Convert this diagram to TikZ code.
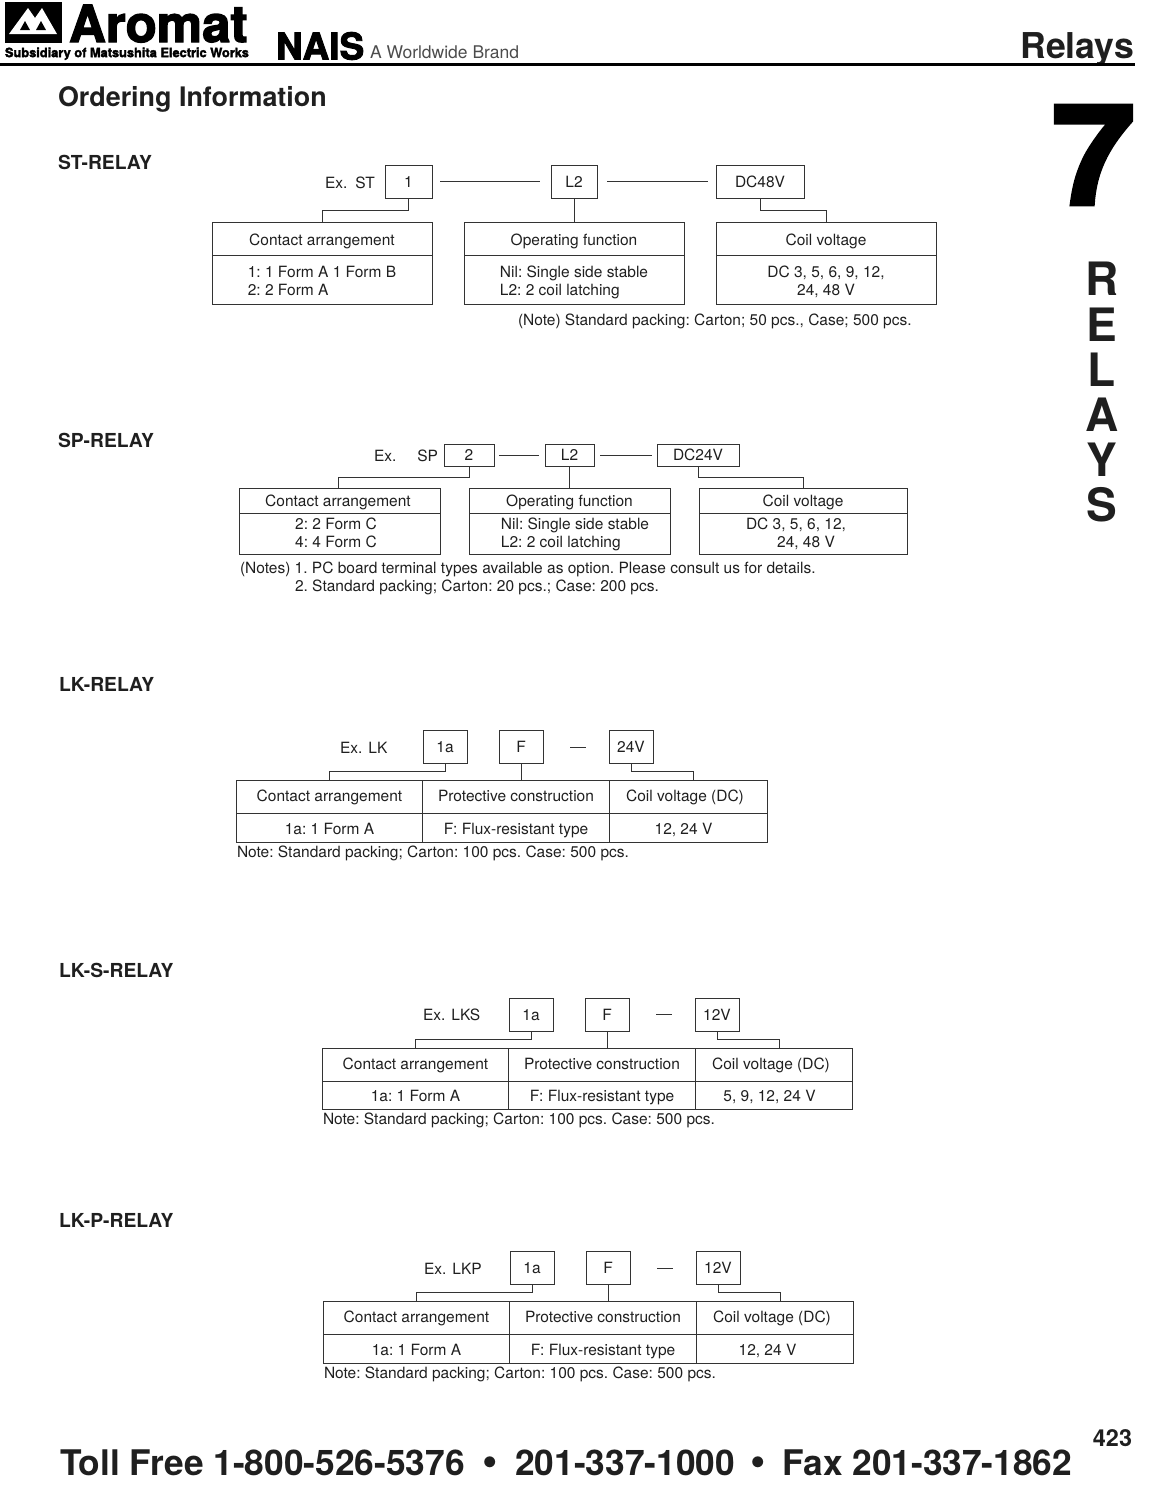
\documentclass[tikz,border=0pt]{standalone}
\usepackage{fontspec}
\setmainfont{TeX Gyre Heros}
\newfontfamily\heavyfont{TeX Gyre Heros}[BoldFeatures={FakeBold=2.5}]
\usepackage{xcolor}
\usetikzlibrary{positioning}
\frenchspacing
\newcommand{\fsz}[1]{\fontsize{#1}{#1}\selectfont}
\newcommand{\twolines}[4][-1.5pt]{\raisebox{#1}[\height][\depth]{\begin{tabular}{@{}#2@{}}#3\\[2.5pt]#4\end{tabular}}}
\begin{document}
\begin{tikzpicture}[
    x=1pt, y=-1pt,
    ink/.style={text=black!88},
    every node/.style={inner sep=0pt, outer sep=0pt, ink},
    rule/.style={draw=black!80, line width=1pt},
    txt/.style={font=\fsz{15.5}, anchor=west, text height=14pt, text depth=2.5pt},
    section/.style={font=\fsz{19.3}\bfseries, anchor=west, text height=15pt, text depth=2.5pt},
    codebox/.style={rule, font=\fsz{15.5}, minimum height=#1, text height=14pt, text depth=2.5pt},
    codebox/.default=33pt,
    head/.style={rule, font=\fsz{15.5}, minimum height=#1, text height=13pt, text depth=2.5pt},
    head/.default=33pt,
    headlow/.style={head=#1, text height=17pt},
    headlow/.default=33pt,
    cell/.style={head=#1, text height=16pt},
    body/.style={rule, font=\fsz{15.5}},
    wire/.style={rule},
    sidelet/.style={font=\fsz{46}\bfseries}
]
\useasboundingbox (0,0) rectangle (1171,1500);
% header
\fill[black] (5,2) rectangle (62,43);
\fill[white] (9,34) -- (28,8) -- (35,18) -- (42,8) -- (57,34) -- cycle;
\fill[black] (25,21) -- (30,30) -- (20,30) -- cycle;
\fill[black] (41,21) -- (46,30) -- (36,30) -- cycle;
\node[anchor=west,font=\heavyfont\fsz{51}\bfseries,text=black,text height=36pt,text depth=0pt] (aromat) at (69,24) {Aromat};
\node[anchor=west,font=\heavyfont\fsz{12.8}\bfseries,text=black,text height=9pt,text depth=2.7pt] (subsidiary) at (5,54) {Subsidiary of Matsushita Electric Works};
\node[anchor=west,font=\heavyfont\fsz{37}\bfseries,text=black] (nais) at (276,46) {NAIS};
\node[anchor=west,font=\fsz{17.5},text=black!70] (brand) at (370,52) {A Worldwide Brand};
\node[anchor=east,font=\fsz{35.6}\bfseries] (relays) at (1134,49) {Relays};
\draw[black,line width=3pt] (0,64.5) -- (1135,64.5);
\node[anchor=west,font=\fsz{26.9}\bfseries] (ordering) at (58,99) {Ordering Information};
% side
\node[anchor=east,font=\heavyfont\fsz{140}\bfseries,text=black] (seven) at (1135.5,155) {\scalebox{1.08}[1]{7}};
\node[sidelet] (sideR) at (1102,279) {R};
\node[sidelet] (sideE) at (1102,325) {E};
\node[sidelet] (sideL) at (1102,370) {L};
\node[sidelet] (sideA) at (1102,415) {A};
\node[sidelet] (sideY) at (1102,460) {Y};
\node[sidelet] (sideS) at (1102,505) {S};
% ST
\node[section] (stTitle) at (58,163) {ST-RELAY};
\node[txt] (stEx) at (325,183) {Ex.\hspace{8pt}ST};
\node[codebox,minimum width=47pt] (st1) at (408.5,181.5) {1};
\node[codebox,minimum width=46pt] (stL2) at (574,181.5) {L2};
\node[codebox,minimum width=88pt] (stV) at (760,181.5) {DC48V};
\node[headlow,minimum width=220pt] (stContact) at (322,238.5) {Contact arrangement};
\node[headlow,minimum width=220pt] (stFunction) at (574,238.5) {Operating function};
\node[headlow,minimum width=220pt] (stCoil) at (826,238.5) {Coil voltage};
\node[body,minimum width=220pt,minimum height=49pt,below=0pt of stContact] (stContactB) {\twolines[-3.5pt]{l}{1: 1 Form A 1 Form B}{2: 2 Form A}};
\node[body,minimum width=220pt,minimum height=49pt,below=0pt of stFunction] (stFunctionB) {\twolines[-3.5pt]{l}{Nil: Single side stable}{L2: 2 coil latching}};
\node[body,minimum width=220pt,minimum height=49pt,below=0pt of stCoil] (stCoilB) {\twolines[-3.5pt]{c}{DC 3, 5, 6, 9, 12,}{24, 48 V}};
\draw[wire,shorten <=8pt,shorten >=11pt] (st1) -- (stL2);
\draw[wire,shorten <=10pt,shorten >=8pt] (stL2) -- (stV);
\draw[wire] (st1.south) -- ++(0,12) -| (stContact.north);
\draw[wire] (stL2.south) -- (stFunction.north);
\draw[wire] (stV.south) -- ++(0,12) -| (stCoil.north);
\node[txt] (stNote) at (518,320) {(Note) Standard packing: Carton; 50 pcs., Case; 500 pcs.};
% SP
\node[section] (spTitle) at (58,441) {SP-RELAY};
\node[txt] (spEx) at (374,456) {Ex.\hspace{21pt}SP};
\node[codebox=22pt,minimum width=50pt] (sp2) at (469,455) {2};
\node[codebox=22pt,minimum width=49pt] (spL2) at (569.5,455) {L2};
\node[codebox=22pt,minimum width=82pt] (spV) at (698,455) {DC24V};
\node[head=25pt,text height=14pt,minimum width=201pt] (spContact) at (339.5,500.5) {Contact arrangement\hspace*{3pt}};
\node[head=25pt,text height=14pt,minimum width=201pt] (spFunction) at (569.5,500.5) {Operating function};
\node[head=25pt,text height=14pt,minimum width=208pt] (spCoil) at (803,500.5) {Coil voltage};
\node[body,minimum width=201pt,minimum height=41pt,below=0pt of spContact] (spContactB) {\twolines{c}{2: 2 Form C}{4: 4 Form C}\hspace*{7pt}};
\node[body,minimum width=201pt,minimum height=41pt,below=0pt of spFunction] (spFunctionB) {\hspace*{11pt}\twolines{l}{Nil: Single side stable}{L2: 2 coil latching}};
\node[body,minimum width=208pt,minimum height=41pt,below=0pt of spCoil] (spCoilB) {\twolines{c}{DC 3, 5, 6, 12,\hspace*{14pt}}{\hspace*{6pt}24, 48 V}};
\draw[wire,shorten <=5pt,shorten >=6pt] (sp2) -- (spL2);
\draw[wire,shorten <=6pt,shorten >=5pt] (spL2) -- (spV);
\draw[wire] (sp2.south) -- ++(0,11) -| ([xshift=-1.5pt]spContact.north);
\draw[wire] (spL2.south) -- (spFunction.north);
\draw[wire] (spV.south) -- ++(0,11) -| (spCoil.north);
\node[txt] (spNote) at (240,568) {(Notes) 1. PC board terminal types available as option. Please consult us for details.};
\node[txt] (spNoteB) at (295,585.5) {2. Standard packing; Carton: 20 pcs.; Case: 200 pcs.};
% LK
\node[section] (lkTitle) at (59,685) {LK-RELAY};
\node[txt] (lkEx) at (340,748) {Ex.\hspace{6pt}LK};
\node[codebox,minimum width=44pt] (lk1a) at (445,747) {1a};
\node[codebox,minimum width=44pt] (lkF) at (521,747) {F};
\node[codebox,minimum width=44pt] (lkV) at (631,747) {24V};
\node[head,minimum width=186.5pt] (lkContact) at (329.5,796.5) {Contact arrangement};
\node[head,minimum width=186.5pt] (lkProtect) at (516,796.5) {Protective construction};
\node[head,minimum width=158pt] (lkCoil) at (688,796.5) {Coil voltage (DC)\hspace*{6pt}};
\node[cell=29pt,minimum width=186.5pt,below=0pt of lkContact] (lkContactB) {1a: 1 Form A};
\node[cell=29pt,minimum width=186.5pt,below=0pt of lkProtect] (lkProtectB) {F: Flux-resistant type};
\node[cell=29pt,minimum width=158pt,below=0pt of lkCoil] (lkCoilB) {12, 24 V\hspace*{9pt}};
\draw[wire,shorten <=27pt,shorten >=23pt] (lkF) -- (lkV);
\draw[wire] (lk1a.south) -- ++(0,8) -| (lkContact.north);
\draw[wire] (lkF.south) -- (lkF.south |- lkProtect.north);
\draw[wire] (lkV.south) -- ++(0,8) -| ([xshift=5pt]lkCoil.north);
\node[txt] (lkNote) at (237,852) {Note: Standard packing; Carton: 100 pcs. Case: 500 pcs.};
% LK-S
\node[section] (lksTitle) at (59,971) {LK-S-RELAY};
\node[txt] (lksEx) at (423,1015) {Ex.\hspace{6pt}LKS};
\node[codebox,minimum width=44pt] (lks1a) at (531,1014.5) {1a};
\node[codebox,minimum width=44pt] (lksF) at (607,1014.5) {F};
\node[codebox,minimum width=44pt] (lksV) at (717,1014.5) {12V};
\node[head,minimum width=186.5pt] (lksContact) at (415.5,1064.5) {Contact arrangement};
\node[head,minimum width=186.5pt] (lksProtect) at (602,1064.5) {Protective construction};
\node[head,minimum width=157pt] (lksCoil) at (773.5,1064.5) {Coil voltage (DC)\hspace*{5pt}};
\node[cell=28pt,minimum width=186.5pt,below=0pt of lksContact] (lksContactB) {1a: 1 Form A};
\node[cell=28pt,minimum width=186.5pt,below=0pt of lksProtect] (lksProtectB) {F: Flux-resistant type};
\node[cell=28pt,minimum width=157pt,below=0pt of lksCoil] (lksCoilB) {5, 9, 12, 24 V\hspace*{8pt}};
\draw[wire,shorten <=27pt,shorten >=23pt] (lksF) -- (lksV);
\draw[wire] (lks1a.south) -- ++(0,8) -| (lksContact.north);
\draw[wire] (lksF.south) -- (lksF.south |- lksProtect.north);
\draw[wire] (lksV.south) -- ++(0,8) -| ([xshift=5.5pt]lksCoil.north);
\node[txt] (lksNote) at (323,1119) {Note: Standard packing; Carton: 100 pcs. Case: 500 pcs.};
% LK-P
\node[section] (lkpTitle) at (59,1221) {LK-P-RELAY};
\node[txt] (lkpEx) at (424,1269) {Ex.\hspace{6pt}LKP};
\node[codebox,minimum width=44pt] (lkp1a) at (532,1268) {1a};
\node[codebox,minimum width=44pt] (lkpF) at (608,1268) {F};
\node[codebox,minimum width=44pt] (lkpV) at (718,1268) {12V};
\node[head,minimum width=186.5pt] (lkpContact) at (416.5,1317.5) {Contact arrangement};
\node[head,minimum width=186.5pt] (lkpProtect) at (603,1317.5) {Protective construction};
\node[head,minimum width=157pt] (lkpCoil) at (774.5,1317.5) {Coil voltage (DC)\hspace*{5pt}};
\node[cell=29pt,minimum width=186.5pt,below=0pt of lkpContact] (lkpContactB) {1a: 1 Form A};
\node[cell=29pt,minimum width=186.5pt,below=0pt of lkpProtect] (lkpProtectB) {F: Flux-resistant type};
\node[cell=29pt,minimum width=157pt,below=0pt of lkpCoil] (lkpCoilB) {12, 24 V\hspace*{14pt}};
\draw[wire,shorten <=27pt,shorten >=23pt] (lkpF) -- (lkpV);
\draw[wire] (lkp1a.south) -- ++(0,8) -| (lkpContact.north);
\draw[wire] (lkpF.south) -- (lkpF.south |- lkpProtect.north);
\draw[wire] (lkpV.south) -- ++(0,8) -| ([xshift=6pt]lkpCoil.north);
\node[txt] (lkpNote) at (324,1373) {Note: Standard packing; Carton: 100 pcs. Case: 500 pcs.};
% footer
\node[anchor=east,font=\fsz{23.4}\bfseries] (pageno) at (1132,1438) {423};
\node[anchor=west,font=\fsz{35.3}\bfseries] (phone) at (60,1463) {Toll Free 1-800-526-5376\hspace{17.5pt}{\fsz{44}•}\hspace{17.5pt}201-337-1000\hspace{16pt}{\fsz{44}•}\hspace{16pt}Fax 201-337-1862};
\end{tikzpicture}
\end{document}
